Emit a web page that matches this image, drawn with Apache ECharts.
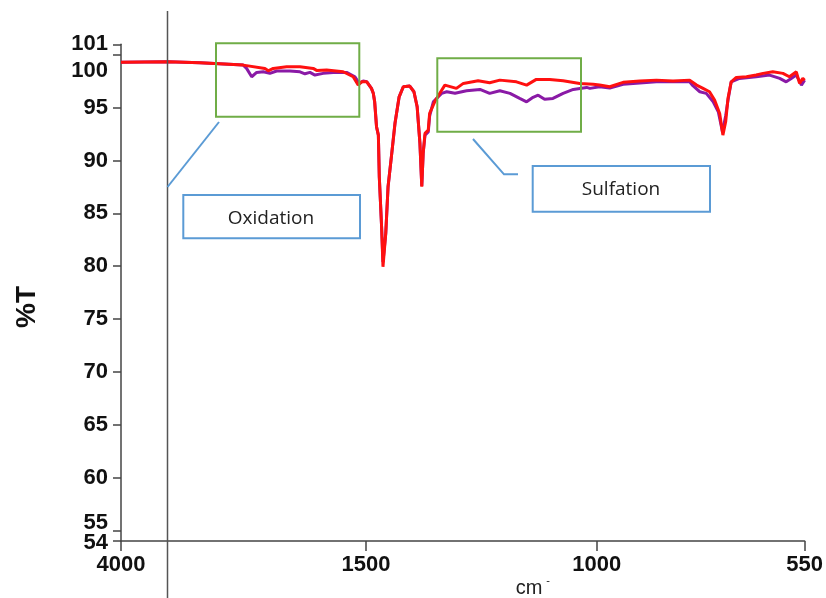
<!DOCTYPE html>
<html><head><meta charset="utf-8">
<script src="https://cdn.jsdelivr.net/npm/echarts@6/dist/echarts.min.js"></script>
<style>html,body{margin:0;padding:0;background:#fff}#c{width:826px;height:598px}</style>
</head><body><div id="c"></div>
<script>
// Wavenumbers (cm-1) and %T readings
const wnRed=[4000,3520,3194,2752,2531,2497,2446,2309,2173,2038,2003,1901,1732,1630,1579,1544,1498,1495,1488,1484,1481,1477,1473,1471,1466,1463,1457,1452,1444,1437,1428,1419,1405,1396,1389,1383,1379,1376,1372,1365,1362,1351,1340,1329,1304,1289,1257,1232,1210,1174,1152,1131,1102,1073,1037,1008,994,972,950,943,907,871,835,799,784,770,756,745,734,727,721,716,709,698,676,655,640,619,597,583,568,561,554,550];
const tRed=[99.29,99.35,99.25,99.03,98.72,98.49,98.72,98.87,98.87,98.72,98.53,98.56,98.40,97.93,97.14,97.45,97.45,97.30,96.83,96.36,95.56,93.20,92.41,88.47,83.74,79.95,83.11,87.52,90.68,93.52,96.03,96.98,97.05,96.51,95.09,91.63,87.52,90.68,92.57,92.88,94.46,95.56,96.36,97.14,96.83,97.30,97.55,97.36,97.61,97.45,97.14,97.68,97.68,97.55,97.30,97.21,97.14,96.98,97.30,97.40,97.52,97.61,97.52,97.61,97.14,96.83,96.51,95.72,94.46,92.41,93.67,95.88,97.45,97.87,97.93,98.09,98.25,98.40,98.25,97.93,98.40,97.30,97.77,97.60];
const wnPurple=[4000,3520,3194,2752,2718,2666,2615,2548,2480,2411,2276,2173,2122,2071,2020,1936,1834,1697,1612,1568,1528,1498,1495,1488,1484,1481,1477,1473,1471,1466,1463,1457,1452,1444,1437,1428,1419,1405,1396,1389,1383,1379,1376,1372,1365,1362,1354,1336,1325,1307,1282,1253,1232,1210,1188,1167,1152,1138,1127,1113,1095,1073,1051,1022,1015,994,972,943,871,799,792,777,763,748,737,728,721,716,709,691,655,626,604,590,579,568,557,550];
const tPurple=[99.29,99.35,99.25,99.03,98.72,97.93,98.34,98.40,98.25,98.47,98.47,98.40,98.21,98.34,98.09,98.25,98.34,98.34,97.93,97.30,97.52,97.45,97.30,96.83,96.36,95.56,93.20,92.41,88.47,83.74,80.40,83.11,87.52,90.68,93.52,96.03,96.98,97.05,96.51,95.09,91.63,87.60,90.68,92.40,92.70,94.20,95.56,96.36,96.51,96.36,96.60,96.73,96.36,96.60,96.36,95.88,95.56,95.98,96.19,95.79,95.88,96.36,96.73,96.92,96.83,96.98,96.86,97.21,97.45,97.45,97.08,96.51,96.36,95.56,94.62,92.72,94.24,95.70,97.45,97.77,97.93,98.09,97.77,97.45,97.77,98.09,97.14,97.61];
const xTickLabels=[4000,1500,1000,550];
const yTickLabels=[55,60,65,70,75,80,85,90,95,100,101];
const yMinLabel=[54];

// segmented wavenumber scale: above 1500 cm-1 the axis is compressed
const BREAK=1500, SQUEEZE=0.2121;
function toAxis(w){return w<=BREAK?w:BREAK+(w-BREAK)*SQUEEZE;}
function fromAxis(u){return u<=BREAK?u:BREAK+(u-BREAK)/SQUEEZE;}
function pairs(ws,ts){return ws.map((w,i)=>[toAxis(w),ts[i]]);}

const FONT='"Liberation Sans", Arial, sans-serif';
const LBL={fontFamily:FONT,fontWeight:'bold',fontSize:22,color:'#111'};
const chart=echarts.init(document.getElementById('c'),null,{renderer:'canvas'});
chart.setOption({
  animation:false,
  backgroundColor:'#fff',
  grid:{left:121,right:21,top:44.3,bottom:57,containLabel:false},
  xAxis:{type:'value',inverse:true,min:toAxis(550),max:toAxis(4000),
    splitLine:{show:false},
    axisLine:{lineStyle:{color:'#444',width:1.5}},
    axisTick:{show:true,length:10,customValues:xTickLabels.map(toAxis),lineStyle:{color:'#444',width:1.5}},
    axisLabel:Object.assign({customValues:xTickLabels.map(toAxis),margin:13,showMinLabel:true,showMaxLabel:true,hideOverlap:false,
      formatter:v=>String(Math.round(fromAxis(v)))},LBL)
  },
  yAxis:[{type:'value',min:54,max:101,
    splitLine:{show:false},
    axisLine:{show:true,lineStyle:{color:'#444',width:1.5}},
    axisTick:{show:true,length:8,customValues:yTickLabels,lineStyle:{color:'#444',width:1.5}},
    axisLabel:Object.assign({customValues:yTickLabels,margin:13,hideOverlap:false,
      formatter:v=>v===100?'{dn|100}':(v===55?'{up|55}':String(v)),
      rich:{dn:Object.assign({padding:[32,0,0,0]},LBL),up:Object.assign({padding:[0,0,14,0]},LBL)}},LBL)
  },{type:'value',min:54,max:101,position:'left',
    splitLine:{show:false},
    axisLine:{show:false},
    axisTick:{show:true,length:8,customValues:yMinLabel,lineStyle:{color:'#444',width:1.5}},
    axisLabel:Object.assign({customValues:yMinLabel,margin:13,showMinLabel:true,
      formatter:v=>'{dn|'+v+'}',rich:{dn:Object.assign({padding:[4,0,0,0]},LBL)}},LBL)
  }],
  series:[
    {name:'purple',type:'line',data:pairs(wnPurple,tPurple),showSymbol:false,symbol:'none',
      lineStyle:{color:'#8a1aa6',width:3},z:2},
    {name:'red',type:'line',data:pairs(wnRed,tRed),showSymbol:false,symbol:'none',
      lineStyle:{color:'#ff1010',width:3},z:3}
  ],
  graphic:[
    {type:'line',shape:{x1:167.5,y1:11,x2:167.5,y2:598},style:{stroke:'#555',lineWidth:1.5},z:10},
    {type:'rect',shape:{x:216,y:43.3,width:143.3,height:73.4},style:{fill:'none',stroke:'#70ad47',lineWidth:2},z:10},
    {type:'rect',shape:{x:437.3,y:58.3,width:143.7,height:73.4},style:{fill:'none',stroke:'#70ad47',lineWidth:2},z:10},
    {type:'line',shape:{x1:219,y1:122,x2:167.5,y2:187},style:{stroke:'#5b9bd5',lineWidth:2},z:10},
    {type:'polyline',shape:{points:[[473,139],[504,174.3],[518,174.3]]},style:{fill:'none',stroke:'#5b9bd5',lineWidth:2},z:10},
    {type:'rect',shape:{x:183.3,y:195,width:176.7,height:43.3},style:{fill:'#fff',stroke:'#5b9bd5',lineWidth:2},z:10},
    {type:'rect',shape:{x:532.7,y:166,width:177.3,height:45.7},style:{fill:'#fff',stroke:'#5b9bd5',lineWidth:2},z:10},
    {type:'text',x:271,y:218.5,style:{text:'Oxidation',fill:'#222',font:'19px "Open Sans", sans-serif',textAlign:'center',textVerticalAlign:'middle'},z:11},
    {type:'text',x:621,y:190,style:{text:'Sulfation',fill:'#222',font:'19px "Open Sans", sans-serif',textAlign:'center',textVerticalAlign:'middle'},z:11},
    {type:'text',x:27,y:307,rotation:Math.PI/2,style:{text:'%T',fill:'#111',font:'bold 28px "Liberation Sans", Arial, sans-serif',textAlign:'center',textVerticalAlign:'middle'},z:11},
    {type:'text',x:529,y:588,style:{text:'cm',fill:'#222',font:'20px "Liberation Sans", Arial, sans-serif',textAlign:'center',textVerticalAlign:'middle'},z:11},
    {type:'text',x:548,y:581,style:{text:'-',fill:'#222',font:'11px "Liberation Sans", Arial, sans-serif',textAlign:'center',textVerticalAlign:'middle'},z:11}
  ]
});
</script></body></html>
